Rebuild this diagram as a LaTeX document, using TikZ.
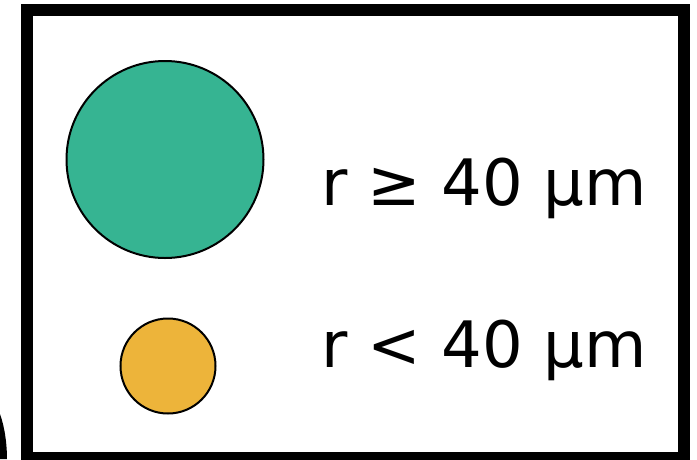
\documentclass[tikz,border=0pt]{standalone}
\usepackage{fontspec}
\setmainfont{DejaVu Sans}
\definecolor{bigc}{RGB}{54,180,146}
\definecolor{smallc}{RGB}{237,180,58}
\begin{document}
\begin{tikzpicture}[x=1pt,y=-1pt,
  blob/.style={circle,draw=black,line width=2pt,inner sep=0pt},
  lbl/.style={anchor=base west,inner sep=0pt,font=\fontsize{64}{70}\selectfont}]
\useasboundingbox (0,0) rectangle (697,459);
\draw[line width=12pt] (27,10) rectangle (683.5,458);
\fill (0,414) .. controls (5,428) and (7,445) .. (7,459) -- (0,459) -- cycle;
\node[blob,fill=bigc,minimum size=197pt] (big) at (165,159.5) {};
\node[blob,fill=smallc,minimum size=95pt] (small) at (168,366) {};
\node[lbl] (t1) at (321,205) {r ≥ 40 μm};
\node[lbl] (t2) at (321,367) {r < 40 μm};
\end{tikzpicture}
\end{document}
